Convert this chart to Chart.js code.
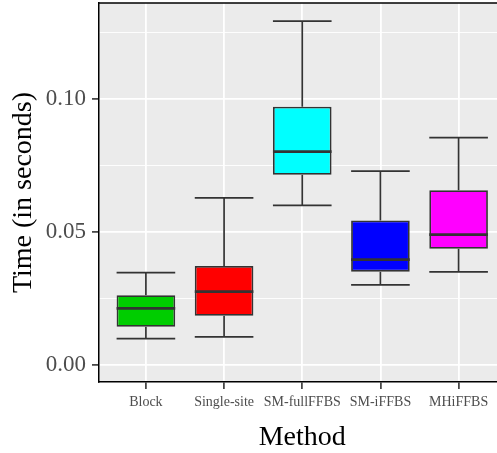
<!DOCTYPE html>
<html>
<head>
<meta charset="utf-8">
<script src="https://cdn.jsdelivr.net/npm/chart.js@4/dist/chart.umd.min.js"></script>
<style>
  html, body { margin: 0; padding: 0; overflow: hidden; background: #ffffff; }
  #wrap { width: 497px; height: 453px; overflow: hidden; }
  canvas { display: block; }
</style>
</head>
<body>
<div id="wrap"><canvas id="c" width="510" height="453"></canvas></div>
<script>
const categories = ['Block', 'Single-site', 'SM-fullFFBS', 'SM-iFFBS', 'MHiFFBS'];
const whiskerLow  = [0.0099, 0.0106, 0.0600, 0.0301, 0.0350];
const q1          = [0.0144, 0.0185, 0.0715, 0.0351, 0.0437];
const median      = [0.0213, 0.0276, 0.0802, 0.0396, 0.0490];
const q3          = [0.0262, 0.0372, 0.0971, 0.0543, 0.0657];
const whiskerHigh = [0.0347, 0.0628, 0.1293, 0.0729, 0.0855];
const fillColors  = ['#00CD00', '#FF0000', '#00FFFF', '#0000FF', '#FF00FF'];

const LINE = '#333333';
const FONT = "'Liberation Serif', 'DejaVu Serif', serif";

function isMajor(v) { return Math.round(v / 0.025) % 2 === 0; }

const boxPlugin = {
  id: 'boxPlugin',
  beforeDraw(chart) {
    const a = chart.chartArea, ctx = chart.ctx;
    ctx.save();
    ctx.fillStyle = '#EBEBEB';
    ctx.fillRect(a.left, a.top, a.right - a.left, a.bottom - a.top);
    ctx.restore();
  },
  beforeDatasetsDraw(chart) {
    const ctx = chart.ctx, y = chart.scales.y;
    const meta = chart.getDatasetMeta(0);
    ctx.save();
    ctx.strokeStyle = LINE;
    ctx.lineWidth = 1.7;
    meta.data.forEach((el, i) => {
      const p = el.getProps(['x', 'width'], true);
      const x = p.x, hw = p.width / 2;
      const yl = y.getPixelForValue(whiskerLow[i]);
      const yh = y.getPixelForValue(whiskerHigh[i]);
      const y1 = y.getPixelForValue(q1[i]);
      const y3 = y.getPixelForValue(q3[i]);
      ctx.beginPath();
      ctx.moveTo(x, yl); ctx.lineTo(x, y1);
      ctx.moveTo(x, y3); ctx.lineTo(x, yh);
      ctx.moveTo(x - hw, yl); ctx.lineTo(x + hw, yl);
      ctx.moveTo(x - hw, yh); ctx.lineTo(x + hw, yh);
      ctx.stroke();
    });
    ctx.restore();
  },
  afterDatasetsDraw(chart) {
    const ctx = chart.ctx, y = chart.scales.y, a = chart.chartArea;
    const meta = chart.getDatasetMeta(0);
    ctx.save();
    ctx.strokeStyle = LINE;
    ctx.lineWidth = 2.8;
    meta.data.forEach((el, i) => {
      const p = el.getProps(['x', 'width'], true);
      const ym = y.getPixelForValue(median[i]);
      ctx.beginPath();
      ctx.moveTo(p.x - p.width / 2, ym);
      ctx.lineTo(p.x + p.width / 2, ym);
      ctx.stroke();
    });
    // top / right panel border
    ctx.strokeStyle = '#000000';
    ctx.lineWidth = 1.5;
    ctx.beginPath();
    ctx.moveTo(a.left - 0.75, a.top);
    ctx.lineTo(a.right, a.top);
    ctx.moveTo(a.right, a.top);
    ctx.lineTo(a.right, a.bottom);
    ctx.stroke();
    ctx.restore();
  }
};

new Chart(document.getElementById('c'), {
  type: 'bar',
  data: {
    labels: categories,
    datasets: [{
      data: categories.map((c, i) => [q1[i], q3[i]]),
      backgroundColor: fillColors,
      borderColor: LINE,
      borderWidth: 1.8,
      borderSkipped: false,
      categoryPercentage: 1.0,
      barPercentage: 0.75
    }]
  },
  plugins: [boxPlugin],
  options: {
    responsive: false,
    animation: false,
    devicePixelRatio: 1,
    layout: { padding: { top: 3, right: 4.5, bottom: 0, left: 0 } },
    plugins: { legend: { display: false }, tooltip: { enabled: false } },
    scales: {
      x: {
        type: 'category',
        offset: true,
        afterBuildTicks(s) { s._startValue = -0.6; s._valueRange = 5.2; },
        afterFit(s) { s.height = 71; s.paddingLeft = 0; s.paddingRight = 0; },
        grid: {
          offset: false,
          color: '#FFFFFF',
          lineWidth: 1.8,
          drawTicks: true,
          tickLength: 7,
          tickColor: LINE,
          tickWidth: 1.6
        },
        border: { display: true, color: '#000000', width: 1.5 },
        ticks: {
          autoSkip: false,
          maxRotation: 0,
          padding: 5,
          color: '#4D4D4D',
          font: { family: FONT, size: 14 }
        },
        title: {
          display: true,
          text: 'Method',
          color: '#000000',
          font: { family: FONT, size: 28, lineHeight: 1 },
          padding: { top: 0, bottom: 1 }
        }
      },
      y: {
        type: 'linear',
        min: -0.00639,
        max: 0.13609,
        afterFit(s) { s.width = 99; s.paddingTop = 0; s.paddingBottom = 0; },
        grid: {
          color: '#FFFFFF',
          lineWidth: (ctx) => (ctx.tick && isMajor(ctx.tick.value)) ? 1.8 : 0.9,
          drawTicks: true,
          tickLength: 7,
          tickColor: (ctx) => (ctx.tick && isMajor(ctx.tick.value)) ? LINE : 'rgba(0,0,0,0)',
          tickWidth: 1.6
        },
        border: { display: true, color: '#000000', width: 1.5 },
        ticks: {
          stepSize: 0.025,
          includeBounds: false,
          padding: 6,
          color: '#4D4D4D',
          font: { family: FONT, size: 23 },
          callback: (v) => isMajor(v) ? v.toFixed(2) : ''
        },
        title: {
          display: true,
          text: 'Time (in seconds)',
          color: '#000000',
          font: { family: FONT, size: 28, lineHeight: 1 },
          padding: { top: 10, bottom: 0 }
        }
      }
    }
  }
});
</script>
</body>
</html>
